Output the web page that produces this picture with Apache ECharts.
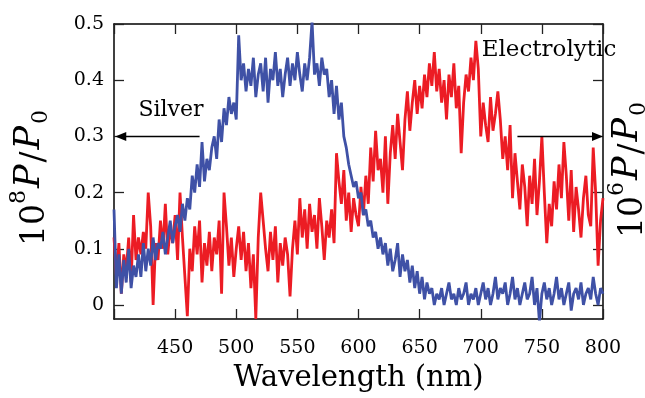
<!DOCTYPE html>
<html>
<head>
<meta charset="utf-8">
<script src="https://cdn.jsdelivr.net/npm/echarts@6/dist/echarts.min.js"></script>
<style>
  html, body { margin: 0; padding: 0; background: #fff; }
  #chart { width: 645px; height: 398px; }
</style>
</head>
<body>
<div id="chart"></div>
<script>
// Wavelength grid (nm), 2 nm steps from 400 to 800
const wavelengths = [];
for (let w = 400; w <= 800; w += 2) wavelengths.push(w);

// Silver, 10^8 P/P0
const silver = [
  0.17, 0.03, 0.09, 0.02, 0.08, 0.04, 0.10, 0.03, 0.07, 0.05,
  0.09, 0.05, 0.11, 0.06, 0.10, 0.07, 0.12, 0.08, 0.11, 0.10,
  0.13, 0.09, 0.12, 0.15, 0.11, 0.14, 0.16, 0.13, 0.18, 0.15,
  0.19, 0.17, 0.23, 0.20, 0.25, 0.21, 0.29, 0.22, 0.26, 0.24,
  0.28, 0.30, 0.26, 0.33, 0.29, 0.35, 0.32, 0.37, 0.34, 0.36,
  0.33, 0.48, 0.40, 0.43, 0.38, 0.42, 0.39, 0.44, 0.37, 0.41,
  0.43, 0.38, 0.44, 0.36, 0.42, 0.40, 0.45, 0.39, 0.42, 0.37,
  0.41, 0.44, 0.39, 0.43, 0.40, 0.45, 0.41, 0.38, 0.43, 0.40,
  0.44, 0.505, 0.41, 0.43, 0.39, 0.44, 0.41, 0.42, 0.37, 0.40,
  0.34, 0.39, 0.33, 0.36, 0.30, 0.28, 0.25, 0.23, 0.21, 0.22,
  0.19, 0.20, 0.16, 0.17, 0.14, 0.15, 0.12, 0.13, 0.10, 0.12,
  0.09, 0.11, 0.07, 0.10, 0.06, 0.08, 0.11, 0.05, 0.09, 0.06,
  0.08, 0.04, 0.07, 0.03, 0.06, 0.02, 0.05, 0.01, 0.04, 0.02,
  0.03, 0.00, 0.02, 0.01, 0.03, 0.00, 0.02, 0.04, 0.01, 0.02,
  0.00, 0.03, 0.01, 0.02, 0.04, 0.00, 0.02, 0.01, 0.03, 0.00,
  0.02, 0.04, 0.01, 0.03, 0.00, 0.02, 0.05, 0.01, 0.03, 0.02,
  0.04, 0.00, 0.02, 0.05, 0.01, 0.03, 0.00, 0.02, 0.04, 0.01,
  0.02, 0.05, 0.00, 0.03, -0.03, 0.02, 0.04, 0.01, 0.03, 0.00,
  0.02, 0.05, 0.01, 0.03, 0.00, 0.02, 0.04, -0.01, 0.02, 0.03,
  0.01, 0.04, 0.00, 0.02, 0.03, 0.01, 0.05, 0.02, 0.00, 0.03,
  0.02
];

// Electrolytic, 10^6 P/P0
const electrolytic = [
  0.12, 0.05, 0.11, 0.02, 0.09, 0.06, 0.12, 0.04, 0.16, 0.08,
  0.12, 0.09, 0.13, 0.10, 0.20, 0.14, 0.00, 0.11, 0.08, 0.15,
  0.10, 0.18, 0.09, 0.14, 0.11, 0.16, 0.08, 0.20, 0.12, 0.05,
  -0.02, 0.10, 0.06, 0.14, 0.09, 0.15, 0.04, 0.11, 0.07, 0.13,
  0.06, 0.12, 0.09, 0.15, 0.02, 0.20, 0.14, 0.07, 0.12, 0.05,
  0.10, 0.14, 0.08, 0.13, 0.06, 0.11, 0.03, 0.09, -0.025, 0.12,
  0.20, 0.15, 0.10, 0.06, 0.13, 0.08, 0.14, 0.04, 0.11, 0.07,
  0.12, 0.09, 0.015, 0.10, 0.15, 0.09, 0.19, 0.12, 0.17, 0.10,
  0.18, 0.13, 0.16, 0.10, 0.19, 0.14, 0.08, 0.15, 0.12, 0.17,
  0.11, 0.27, 0.22, 0.18, 0.24, 0.15, 0.20, 0.13, 0.19, 0.16,
  0.14, 0.21, 0.16, 0.23, 0.18, 0.28, 0.22, 0.31, 0.24, 0.26,
  0.20, 0.30, 0.18, 0.27, 0.32, 0.26, 0.34, 0.29, 0.24, 0.33,
  0.38, 0.31, 0.36, 0.40, 0.34, 0.39, 0.35, 0.41, 0.37, 0.43,
  0.39, 0.45, 0.38, 0.42, 0.36, 0.40, 0.33, 0.41, 0.37, 0.43,
  0.35, 0.39, 0.27, 0.36, 0.41, 0.38, 0.44, 0.40, 0.47, 0.42,
  0.30, 0.36, 0.32, 0.29, 0.37, 0.31, 0.34, 0.38, 0.33, 0.26,
  0.30, 0.24, 0.32, 0.19, 0.27, 0.22, 0.17, 0.25, 0.21, 0.14,
  0.23, 0.18, 0.26, 0.16, 0.22, 0.30, 0.20, 0.11, 0.18, 0.14,
  0.22, 0.17, 0.25, 0.19, 0.29, 0.23, 0.15, 0.24, 0.13, 0.21,
  0.17, 0.12, 0.19, 0.23, 0.16, 0.14, 0.28, 0.20, 0.07, 0.15,
  0.19
];

// Tick values shared by both vertical axes
const yTicks = [0, 0.1, 0.2, 0.3, 0.4, 0.5];

// Annotation arrows at P = 0.3, pointing to each series' axis
const silverArrow = [[470, 0.3], [405.5, 0.3]];
const electroArrow = [[730, 0.3], [795.5, 0.3]];

const FONT = 'DejaVu Serif';
const BLUE = '#3f51a6';
const RED = '#ec1c24';

const chart = echarts.init(document.getElementById('chart'), null, { renderer: 'canvas' });

const frameLine = { show: true, onZero: false, lineStyle: { color: '#000', width: 1.5 } };
const tickIn = { show: true, inside: true, length: 10, lineStyle: { color: '#222', width: 1.3 } };

const yNameRich = {
  b: { fontFamily: FONT, fontSize: 33, color: '#000', lineHeight: 44, verticalAlign: 'bottom' },
  sup: { fontFamily: FONT, fontSize: 22, color: '#000', lineHeight: 44, verticalAlign: 'top' },
  it: { fontFamily: FONT, fontSize: 35, fontStyle: 'italic', color: '#000', lineHeight: 44, padding: [0, 2, 0, 2] },
  sub: { fontFamily: FONT, fontSize: 22, color: '#000', lineHeight: 44, verticalAlign: 'bottom' }
};

function axisNameText(exp) {
  return '{b|10}{sup|' + exp + '}{it|P}{b|/}{it|P}{sub|0}';
}

const option = {
  animation: false,
  backgroundColor: '#fff',
  grid: { left: 114, right: 42, top: 24, bottom: 78, containLabel: false },
  xAxis: [
    {
      type: 'value', min: 400, max: 800, interval: 50, position: 'bottom',
      name: 'Wavelength (nm)', nameLocation: 'middle', nameGap: 45,
      nameTextStyle: { fontFamily: FONT, fontSize: 29, color: '#000' },
      axisLine: frameLine, axisTick: tickIn, splitLine: { show: false },
      axisLabel: {
        margin: 20, fontFamily: FONT, fontSize: 19, color: '#000',
        formatter: v => (v === 400 ? '' : String(v))
      }
    },
    {
      type: 'value', min: 400, max: 800, interval: 50, position: 'top',
      axisLine: frameLine, axisTick: tickIn, axisLabel: { show: false }, splitLine: { show: false }
    }
  ],
  yAxis: [
    {
      type: 'value', min: -0.025, max: 0.5, position: 'left',
      axisLine: frameLine,
      axisTick: Object.assign({}, tickIn, { customValues: yTicks }),
      splitLine: { show: false },
      axisLabel: {
        customValues: yTicks, margin: 10, fontFamily: FONT, fontSize: 19, color: '#000',
        formatter: v => (Math.abs(v) < 1e-9 ? '0' : v.toFixed(1))
      }
    },
    {
      type: 'value', min: -0.025, max: 0.5, position: 'right',
      axisLine: frameLine,
      axisTick: Object.assign({}, tickIn, { customValues: yTicks }),
      splitLine: { show: false },
      axisLabel: { show: false }
    }
  ],
  graphic: [
    {
      type: 'text', x: 30, y: 178, rotation: Math.PI / 2,
      style: { text: axisNameText(8), rich: yNameRich, align: 'center', verticalAlign: 'middle' }
    },
    {
      type: 'text', x: 628, y: 170, rotation: Math.PI / 2,
      style: { text: axisNameText(6), rich: yNameRich, align: 'center', verticalAlign: 'middle' }
    },
    {
      type: 'text', x: 171, y: 110,
      style: { text: 'Silver', fontFamily: FONT, fontSize: 22, fill: '#000', align: 'center', verticalAlign: 'middle' }
    },
    {
      type: 'text', x: 549, y: 50, z: 10,
      style: { text: 'Electrolytic', fontFamily: FONT, fontSize: 23, fill: '#000', align: 'center', verticalAlign: 'middle' }
    }
  ],
  series: [
    {
      name: 'Electrolytic', type: 'line', yAxisIndex: 1, showSymbol: false,
      data: wavelengths.map((w, i) => [w, electrolytic[i]]),
      lineStyle: { color: RED, width: 2.8 }, itemStyle: { color: RED },
      markLine: {
        silent: true, symbol: ['none', 'triangle'], symbolSize: [9, 11],
        label: { show: false },
        lineStyle: { color: '#000', width: 1.3, type: 'solid' },
        data: [[{ coord: electroArrow[0] }, { coord: electroArrow[1] }]]
      }
    },
    {
      name: 'Silver', type: 'line', yAxisIndex: 0, showSymbol: false,
      data: wavelengths.map((w, i) => [w, silver[i]]),
      lineStyle: { color: BLUE, width: 2.8 }, itemStyle: { color: BLUE },
      markLine: {
        silent: true, symbol: ['none', 'triangle'], symbolSize: [9, 11],
        label: { show: false },
        lineStyle: { color: '#000', width: 1.3, type: 'solid' },
        data: [[{ coord: silverArrow[0] }, { coord: silverArrow[1] }]]
      }
    }
  ]
};

chart.setOption(option);
</script>
</body>
</html>
